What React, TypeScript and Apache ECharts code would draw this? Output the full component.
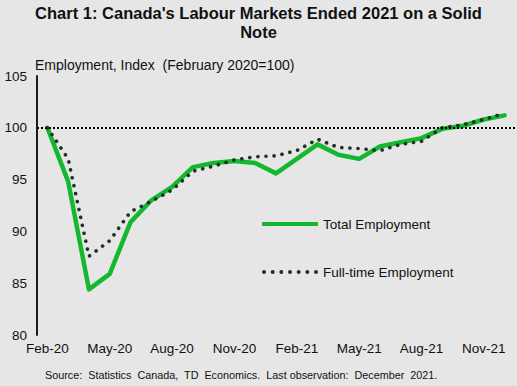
import React, { useEffect, useRef } from "react";
import * as echarts from "echarts";

const months = [
  "Feb-20", "Mar-20", "Apr-20", "May-20", "Jun-20", "Jul-20", "Aug-20", "Sep-20",
  "Oct-20", "Nov-20", "Dec-20", "Jan-21", "Feb-21", "Mar-21", "Apr-21", "May-21",
  "Jun-21", "Jul-21", "Aug-21", "Sep-21", "Oct-21", "Nov-21", "Dec-21",
];
const totalEmployment = [
  100, 94.8, 84.4, 85.9, 90.9, 93.0, 94.3, 96.2, 96.6, 96.8, 96.6, 95.6,
  97.0, 98.4, 97.4, 97.0, 98.2, 98.6, 99.0, 99.9, 100.2, 100.8, 101.2,
];
const fullTimeEmployment = [
  100, 97.0, 87.6, 89.1, 91.9, 92.9, 94.0, 95.8, 96.3, 96.9, 97.2, 97.3,
  97.8, 98.9, 98.1, 98.0, 97.8, 98.4, 98.7, 100.0, 100.3, 100.8, 101.4,
];
const seriesNames = ["Total Employment", "Full-time Employment"];
const titleText = "Chart 1: Canada's Labour Markets Ended 2021 on a Solid\nNote";
const yAxisTitle = "Employment, Index  (February 2020=100)";
const sourceText = "Source:  Statistics  Canada,  TD  Economics.  Last observation:  December  2021.";
const referenceLevel = 100;

const FONT = 'Arial, "Liberation Sans", sans-serif';
const GREEN = "#13b82e";
const DARK = "#1c3326";

// dotted legend icon: 7 circles across a 56x4 box
function dotsIconPath(): string {
  let d = "path://";
  for (let k = 0; k < 7; k++) {
    const cx = 2 + k * 8.667;
    d += `M${(cx - 2).toFixed(2)},2 A2,2 0 1,0 ${(cx + 2).toFixed(2)},2 A2,2 0 1,0 ${(cx - 2).toFixed(2)},2 Z `;
  }
  return d.trim();
}

export default function App() {
  const ref = useRef<HTMLDivElement>(null);
  useEffect(() => {
    if (!ref.current) return;
    const chart = echarts.init(ref.current, undefined, { renderer: "svg" });
    chart.setOption({
      animation: false,
      backgroundColor: "#e6e6e6",
      textStyle: { fontFamily: FONT },
      title: {
        text: titleText,
        left: "center",
        top: -2,
        textStyle: { fontFamily: FONT, fontSize: 16.5, fontWeight: "bold", color: "#111", lineHeight: 19 },
      },
      graphic: [
        {
          type: "text",
          left: 35,
          top: 58,
          style: { text: yAxisTitle, font: `14px ${FONT}`, fill: "#111" },
        },
        {
          type: "text",
          left: 45,
          top: 369,
          style: { text: sourceText, font: `10.8px ${FONT}`, fill: "#111" },
        },
      ],
      legend: {
        orient: "vertical",
        left: 257,
        top: 212,
        itemWidth: 56,
        itemHeight: 4,
        itemGap: 34,
        textStyle: { fontFamily: FONT, fontSize: 13.5, color: "#111" },
        data: [
          { name: seriesNames[0], icon: "rect", itemStyle: { color: GREEN } },
          { name: seriesNames[1], icon: dotsIconPath(), itemStyle: { color: DARK } },
        ],
      },
      grid: { left: 37, right: 2, top: 76, bottom: 51 },
      xAxis: {
        type: "category",
        data: months,
        boundaryGap: true,
        axisLine: { show: false },
        axisTick: { show: false },
        axisLabel: { interval: 2, fontSize: 13.5, color: "#111", fontFamily: FONT, margin: 6 },
      },
      yAxis: {
        type: "value",
        min: 80,
        max: 105,
        interval: 5,
        axisLine: { show: true, lineStyle: { color: "#1a1a1a", width: 2 } },
        axisTick: { show: false },
        splitLine: { show: false },
        axisLabel: { fontSize: 13.5, color: "#111", fontFamily: FONT, margin: 10 },
      },
      series: [
        {
          name: seriesNames[0],
          type: "line",
          data: totalEmployment,
          showSymbol: false,
          symbol: "none",
          lineStyle: { color: GREEN, width: 4.5, join: "round", cap: "round" },
          itemStyle: { color: GREEN },
          z: 2,
          markLine: {
            silent: true,
            symbol: "none",
            label: { show: false },
            lineStyle: { color: "#000", width: 2, type: [2, 2] },
            data: [{ yAxis: referenceLevel }],
          },
        },
        {
          name: seriesNames[1],
          type: "line",
          data: fullTimeEmployment,
          showSymbol: false,
          symbol: "none",
          lineStyle: { color: DARK, width: 3.6, type: [0.1, 8], cap: "round" },
          itemStyle: { color: DARK },
          z: 3,
        },
      ],
    });
    return () => chart.dispose();
  }, []);
  return (
    <div
      ref={ref}
      style={{ position: "fixed", left: 0, top: 0, width: 517, height: 386 }}
    />
  );
}
